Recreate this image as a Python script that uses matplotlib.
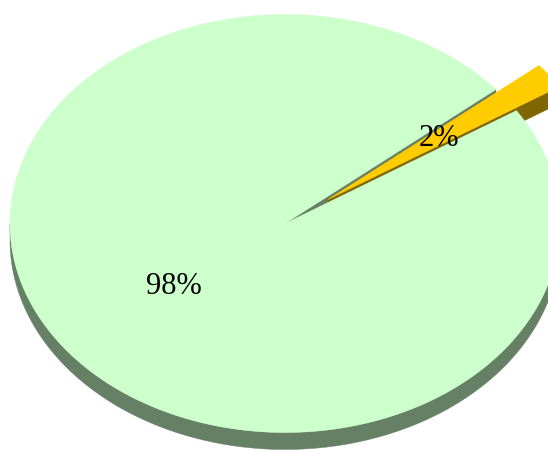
import numpy as np
import matplotlib
matplotlib.use('Agg')
import matplotlib.pyplot as plt
from matplotlib.patches import Polygon

# ---- data ----
values = [98, 2]
labels = ['98%', '2%']
top_colors = ['#CCFFCC', '#FFCC00']
side_colors = ['#668066', '#806600']
explode = [0.0, 0.194]
start_angle = 39.9   # degrees, counter-clockwise from +x

# ---- geometry of the 3D pie (screen pixels) ----
CX, CY, A, B, DEPTH = 285, 223.5, 275, 209, 17

fig = plt.figure(figsize=(5.48, 4.5), dpi=100)
ax = fig.add_axes([0, 0, 1, 1])
ax.set_xlim(0, 548)
ax.set_ylim(450, 0)
ax.axis('off')


def pt(theta_deg, r, z, off):
    t = np.radians(theta_deg)
    return (CX + off[0] + r * A * np.cos(t), CY + off[1] - r * B * np.sin(t) + z)


total = float(sum(values))
slices = []
a0 = start_angle
for v, e in zip(values, explode):
    a1 = a0 + 360.0 * v / total
    mid = np.radians((a0 + a1) / 2)
    off = (e * A * np.cos(mid), -e * B * np.sin(mid))
    slices.append((a0, a1, off, e))
    a0 = a1


def outer_side(i):
    t0, t1, off, e = slices[i]
    polys = []
    for k in range(-1, 3):
        lo = max(t0, 180 + 360 * k)
        hi = min(t1, 360 + 360 * k)
        if hi > lo:
            ts = np.linspace(lo, hi, 200)
            top = [pt(t, 1, 0, off) for t in ts]
            bot = [pt(t, 1, DEPTH, off) for t in ts[::-1]]
            polys.append(top + bot)
    return polys


def radial_walls(i):
    t0, t1, off, e = slices[i]
    polys = []
    if np.cos(np.radians(t0)) > 0:
        polys.append([pt(t0, 0, 0, off), pt(t0, 1, 0, off),
                      pt(t0, 1, DEPTH, off), pt(t0, 0, DEPTH, off)])
    if np.cos(np.radians(t1)) < 0:
        polys.append([pt(t1, 0, 0, off), pt(t1, 1, 0, off),
                      pt(t1, 1, DEPTH, off), pt(t1, 0, DEPTH, off)])
    return polys


def top_face(i):
    t0, t1, off, e = slices[i]
    ts = np.linspace(t0, t1, 600)
    return [pt(t0, 0, 0, off)] + [pt(t, 1, 0, off) for t in ts]


def draw(poly, color, z):
    ax.add_patch(Polygon(poly, closed=True, facecolor=color, edgecolor=color,
                         linewidth=0.3, zorder=z))


order = sorted(range(len(values)), key=lambda i: explode[i])
z = 1
for i in order:
    for p in outer_side(i):
        draw(p, side_colors[i], z)
    for p in radial_walls(i):
        draw(p, side_colors[i], z)
    z += 1
for i in order:
    draw(top_face(i), top_colors[i], z)
    z += 1

# ---- labels ----
for i, lab in enumerate(labels):
    t0, t1, off, e = slices[i]
    x, y = pt((t0 + t1) / 2, 0.5, 0, off)
    ax.text(x, y + 1, lab, ha='center', va='center', fontsize=22,
            family='Liberation Serif', color='black', zorder=20)

fig.savefig('out.png', dpi=100)
